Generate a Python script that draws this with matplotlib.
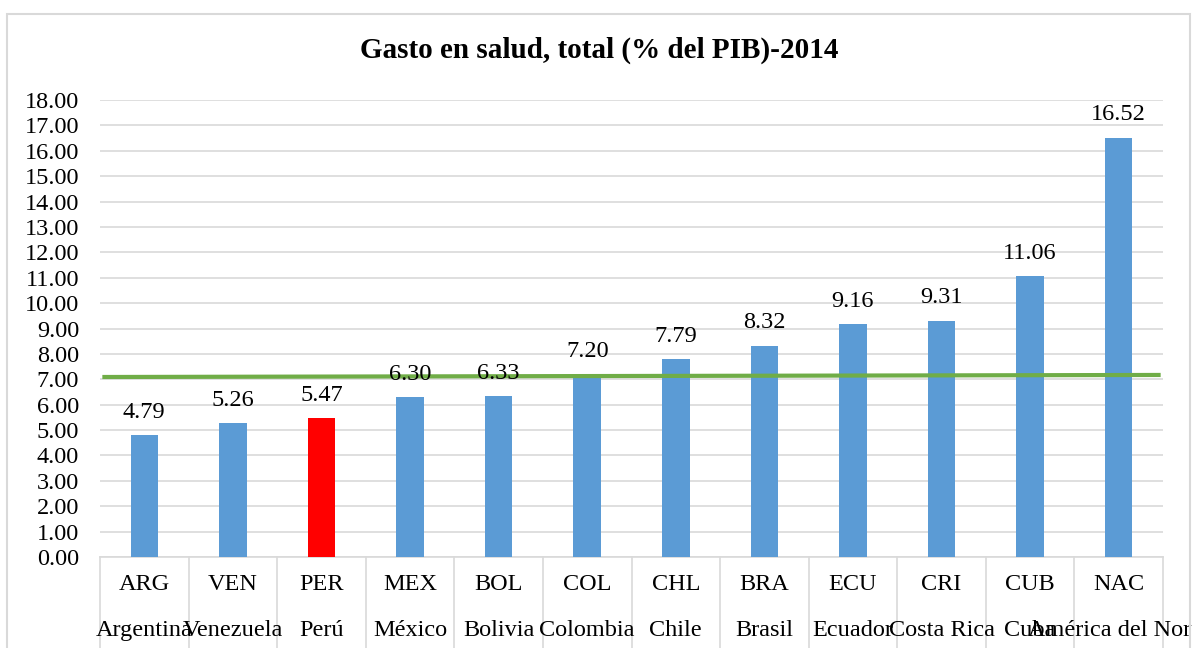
import matplotlib.pyplot as plt
from matplotlib.patches import Rectangle

# datos
codigos = ['ARG', 'VEN', 'PER', 'MEX', 'BOL', 'COL', 'CHL', 'BRA', 'ECU', 'CRI', 'CUB', 'NAC']
paises = ['Argentina', 'Venezuela', 'Perú', 'México', 'Bolivia', 'Colombia', 'Chile',
          'Brasil', 'Ecuador', 'Costa Rica', 'Cuba', 'América del Norte']
gasto = [4.79, 5.26, 5.47, 6.30, 6.33, 7.20, 7.79, 8.32, 9.16, 9.31, 11.06, 16.52]
linea_verde = [7.09, 7.17]  # linea de referencia (inicio, fin)

plt.rcParams['font.family'] = ['Liberation Serif', 'DejaVu Serif']

W, H = 1192, 648
fig = plt.figure(figsize=(W / 100, H / 100), dpi=100)
ax = fig.add_axes([100 / W, 1 - 557 / H, (1163 - 100) / W, (557 - 100) / H])

x = list(range(len(codigos)))
colores = ['#FF0000' if c == 'PER' else '#5B9BD5' for c in codigos]
ax.bar(x, gasto, width=0.31, color=colores, zorder=3)

for xi, v in zip(x, gasto):
    ax.annotate(f'{v:.2f}', (xi, v), xytext=(0, 9), textcoords='offset points',
                ha='center', va='bottom', fontsize=17.5, color='#000000', zorder=5)

ax.plot([-0.45, len(codigos) - 0.55], linea_verde, color='#70AD47', lw=3, zorder=4)

ax.set_xlim(-0.5, len(codigos) - 0.5)
ax.set_ylim(0, 18)
ax.set_yticks(range(0, 19))
ax.set_yticklabels([f'{i:.2f}' for i in range(0, 19)], fontsize=17.5)
ax.yaxis.grid(True, color='#D9D9D9', lw=1.2, zorder=0)
ax.tick_params(axis='y', length=0, pad=15)
ax.tick_params(axis='x', length=0)
ax.set_xticks([])
for s in ['left', 'right', 'top']:
    ax.spines[s].set_visible(False)
ax.spines['bottom'].set_color('#D9D9D9')
ax.spines['bottom'].set_linewidth(1.2)

# eje de categorias en dos niveles
for i in range(len(codigos) + 1):
    ax.plot([i - 0.5, i - 0.5], [0, -4], color='#D9D9D9', lw=1.2, clip_on=False)
for xi, c, p in zip(x, codigos, paises):
    ax.text(xi, -1.1, c, ha='center', va='center', fontsize=17.5)
    ax.text(xi, -2.9, p, ha='center', va='center', fontsize=17.5)

fig.text(599 / W, 1 - 50 / H, 'Gasto en salud, total (% del PIB)-2014',
         ha='center', va='center', fontsize=21, fontweight='bold')

fig.patches.append(Rectangle((7 / W, -0.1), (1190 - 7) / W, 1 - 14 / H + 0.1,
                             transform=fig.transFigure, fill=False,
                             edgecolor='#D9D9D9', lw=1.5))

fig.savefig('out.png', dpi=100)
